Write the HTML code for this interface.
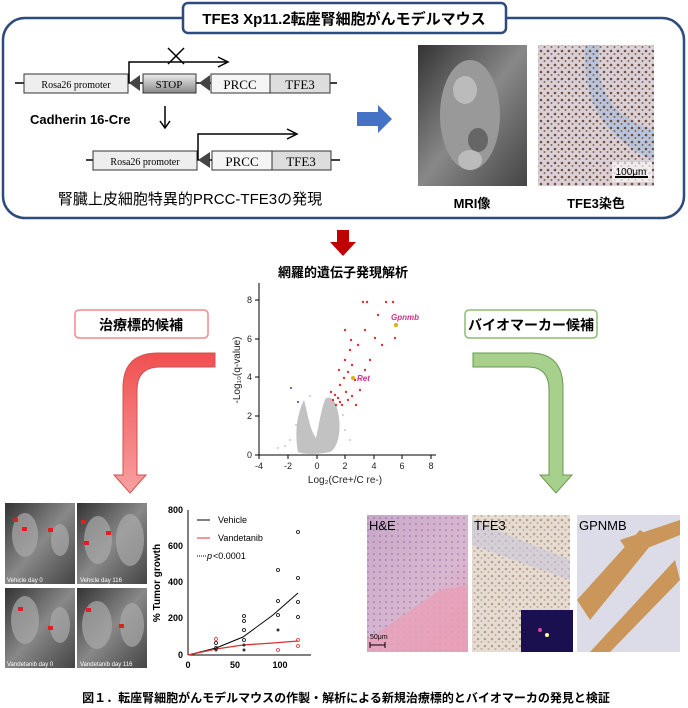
<!DOCTYPE html>
<html><head><meta charset="utf-8"><style>
body{margin:0;background:#fff}
svg{display:block;font-family:"Liberation Sans","Noto Sans CJK JP",sans-serif}
</style></head><body>
<svg width="688" height="708" viewBox="0 0 688 708" xmlns="http://www.w3.org/2000/svg">
<defs>
<linearGradient id="gs" x1="0" y1="0" x2="0" y2="1"><stop offset="0" stop-color="#eee"/><stop offset="1" stop-color="#888"/></linearGradient>
<linearGradient id="mri" x1="0" y1="0" x2="1" y2="1"><stop offset="0" stop-color="#333"/><stop offset=".5" stop-color="#888"/><stop offset="1" stop-color="#444"/></linearGradient>
<linearGradient id="he" x1="0" y1="0" x2="1" y2="1"><stop offset="0" stop-color="#c8a8c8"/><stop offset=".6" stop-color="#d8b8d0"/><stop offset="1" stop-color="#e8a0b8"/></linearGradient>
<linearGradient id="red" x1="0" y1="0" x2="0" y2="1"><stop offset="0" stop-color="#f05050"/><stop offset="1" stop-color="#f8a0a0"/></linearGradient>
<pattern id="dots" width="7" height="7" patternUnits="userSpaceOnUse"><circle cx="2" cy="2" r="1.3" fill="#5a3018"/><circle cx="5.5" cy="5" r="1" fill="#7a4a28"/></pattern>
<pattern id="dots2" width="6" height="6" patternUnits="userSpaceOnUse"><circle cx="2" cy="2" r=".9" fill="#7a5a9a"/></pattern>
</defs>
<!-- top box -->
<rect x="3" y="18" width="681" height="200" rx="22" fill="none" stroke="#2e4a7e" stroke-width="2.5"/>
<rect x="183" y="3" width="323" height="30" rx="5" fill="#fff" stroke="#2e4a7e" stroke-width="2.5"/>
<text x="344" y="24" font-size="15" font-weight="bold" text-anchor="middle">TFE3 Xp11.2転座腎細胞がんモデルマウス</text>
<!-- row1 -->
<line x1="15" y1="83" x2="337" y2="83" stroke="#000" stroke-width="1.5"/>
<rect x="24" y="74" width="104" height="19" fill="#eee" stroke="#333"/>
<text x="76" y="88" font-size="10" text-anchor="middle" font-family="Liberation Serif,serif">Rosa26 promoter</text>
<polygon points="129,83 140,75 140,91" fill="#444"/>
<rect x="143" y="74" width="53" height="19" fill="url(#gs)" stroke="#333"/>
<text x="169" y="88" font-size="11" text-anchor="middle" font-family="Liberation Serif,serif">STOP</text>
<polygon points="199,83 210,75 210,91" fill="#444"/>
<rect x="211" y="74" width="59" height="19" fill="#f5f5f5" stroke="#333"/>
<rect x="270" y="74" width="60" height="19" fill="#ddd" stroke="#333"/>
<text x="240" y="89" font-size="13" text-anchor="middle" font-family="Liberation Serif,serif">PRCC</text>
<text x="300" y="89" font-size="13" text-anchor="middle" font-family="Liberation Serif,serif">TFE3</text>
<polyline points="129,83 129,62 226,62" fill="none" stroke="#000" stroke-width="1.5"/>
<polyline points="218,57 228,62 218,67" fill="none" stroke="#000" stroke-width="1.5"/>
<path d="M168,48 L184,64 M184,48 L168,64" stroke="#000" stroke-width="1.5"/>
<text x="30" y="124" font-size="13" font-weight="bold">Cadherin 16-Cre</text>
<line x1="165" y1="106" x2="165" y2="127" stroke="#000" stroke-width="1.5"/>
<polyline points="160,121 165,128 170,121" fill="none" stroke="#000" stroke-width="1.5"/>
<!-- row2 -->
<line x1="86" y1="160" x2="340" y2="160" stroke="#000" stroke-width="1.5"/>
<rect x="93" y="151" width="104" height="19" fill="#eee" stroke="#333"/>
<text x="145" y="165" font-size="10" text-anchor="middle" font-family="Liberation Serif,serif">Rosa26 promoter</text>
<polygon points="198,160 210,152 210,168" fill="#444"/>
<rect x="212" y="151" width="60" height="19" fill="#f5f5f5" stroke="#333"/>
<rect x="272" y="151" width="59" height="19" fill="#ddd" stroke="#333"/>
<text x="242" y="166" font-size="13" text-anchor="middle" font-family="Liberation Serif,serif">PRCC</text>
<text x="301" y="166" font-size="13" text-anchor="middle" font-family="Liberation Serif,serif">TFE3</text>
<polyline points="198,160 198,134 295,134" fill="none" stroke="#000" stroke-width="1.5"/>
<polyline points="287,129 297,134 287,139" fill="none" stroke="#000" stroke-width="1.5"/>
<text x="190" y="204" font-size="15" text-anchor="middle">腎臓上皮細胞特異的PRCC-TFE3の発現</text>
<!-- blue arrow -->
<polygon points="357,112 378,112 378,105 392,119 378,133 378,126 357,126" fill="#4472c4"/>
<!-- images -->
<rect x="418" y="45" width="109" height="141" fill="url(#mri)"/>
<ellipse cx="470" cy="115" rx="30" ry="55" fill="#999"/>
<ellipse cx="465" cy="90" rx="12" ry="14" fill="#bbb"/>
<ellipse cx="478" cy="140" rx="10" ry="12" fill="#666"/>
<ellipse cx="470" cy="160" rx="12" ry="10" fill="#bbb"/>
<rect x="538" y="45" width="116" height="141" fill="#d9d0d8"/>
<path d="M600,45 Q590,110 654,130 L654,160 Q580,130 585,45Z" fill="#b8c4dc"/>
<rect x="538" y="45" width="116" height="141" fill="url(#dots)" opacity=".8"/>
<rect x="612" y="162" width="40" height="20" fill="#fff" opacity=".6"/>
<line x1="615" y1="177" x2="648" y2="177" stroke="#000" stroke-width="2"/>
<text x="631" y="175" font-size="10" text-anchor="middle">100μm</text>
<text x="472" y="208" font-size="13" font-weight="bold" text-anchor="middle">MRI像</text>
<text x="596" y="208" font-size="13" font-weight="bold" text-anchor="middle">TFE3染色</text>
<!-- red down arrow -->
<polygon points="337,230 349,230 349,242 356,242 343,256 330,242 337,242" fill="#c00000"/>
<text x="343" y="277" font-size="13" font-weight="bold" text-anchor="middle">網羅的遺伝子発現解析</text>
<!-- volcano -->
<g font-size="9" fill="#222">
<line x1="259" y1="283" x2="259" y2="455" stroke="#000"/>
<line x1="259" y1="455" x2="436" y2="455" stroke="#000"/>
<g stroke="#000">
<line x1="255" y1="455" x2="259" y2="455"/><line x1="255" y1="416" x2="259" y2="416"/><line x1="255" y1="377" x2="259" y2="377"/><line x1="255" y1="339" x2="259" y2="339"/><line x1="255" y1="300" x2="259" y2="300"/>
<line x1="259" y1="455" x2="259" y2="459"/><line x1="288" y1="455" x2="288" y2="459"/><line x1="317" y1="455" x2="317" y2="459"/><line x1="345" y1="455" x2="345" y2="459"/><line x1="374" y1="455" x2="374" y2="459"/><line x1="402" y1="455" x2="402" y2="459"/><line x1="431" y1="455" x2="431" y2="459"/>
</g>
<text x="252" y="458" text-anchor="end">0</text><text x="252" y="419" text-anchor="end">2</text><text x="252" y="380" text-anchor="end">4</text><text x="252" y="342" text-anchor="end">6</text><text x="252" y="303" text-anchor="end">8</text>
<text x="259" y="469" text-anchor="middle">-4</text><text x="288" y="469" text-anchor="middle">-2</text><text x="317" y="469" text-anchor="middle">0</text><text x="345" y="469" text-anchor="middle">2</text><text x="374" y="469" text-anchor="middle">4</text><text x="402" y="469" text-anchor="middle">6</text><text x="431" y="469" text-anchor="middle">8</text>
<text x="345" y="483" text-anchor="middle" font-size="10">Log₂(Cre+/C re-)</text>
<text transform="translate(240,370) rotate(-90)" text-anchor="middle" font-size="10">-Log₁₀(q-value)</text>
</g>
<path d="M298,452 C294,430 298,412 304,400 C308,415 310,430 316,438 C320,420 322,405 326,398 C332,396 336,402 338,412 C342,430 338,448 330,452 C320,454 305,455 298,452Z" fill="#c2c2c2"/>
<g fill="#c8c8c8"><circle cx="290" cy="440" r="1"/><circle cx="285" cy="446" r="1"/><circle cx="296" cy="425" r="1"/><circle cx="345" cy="430" r="1"/><circle cx="350" cy="440" r="1"/><circle cx="310" cy="396" r="1"/><circle cx="278" cy="448" r="1"/><circle cx="343" cy="415" r="1"/></g>
<g fill="#3040a0"><circle cx="291" cy="388" r="1"/><circle cx="298" cy="402" r="1"/></g>
<g fill="#e03030">
<circle cx="331" cy="392" r="1.2"/><circle cx="335" cy="395" r="1.2"/><circle cx="338" cy="398" r="1.2"/><circle cx="340" cy="385" r="1.2"/><circle cx="344" cy="378" r="1.2"/><circle cx="348" cy="372" r="1.2"/><circle cx="352" cy="365" r="1.2"/><circle cx="345" cy="360" r="1.2"/><circle cx="339" cy="370" r="1.2"/><circle cx="355" cy="380" r="1.2"/><circle cx="360" cy="390" r="1.2"/><circle cx="365" cy="370" r="1.2"/><circle cx="370" cy="360" r="1.2"/><circle cx="358" cy="345" r="1.2"/><circle cx="350" cy="350" r="1.2"/><circle cx="365" cy="330" r="1.2"/><circle cx="375" cy="338" r="1.2"/><circle cx="382" cy="345" r="1.2"/><circle cx="378" cy="315" r="1.2"/><circle cx="363" cy="302" r="1.2"/><circle cx="367" cy="302" r="1.2"/><circle cx="386" cy="302" r="1.2"/><circle cx="393" cy="302" r="1.2"/><circle cx="395" cy="338" r="1.2"/><circle cx="342" cy="405" r="1.2"/><circle cx="348" cy="400" r="1.2"/><circle cx="336" cy="405" r="1.2"/><circle cx="356" cy="405" r="1.2"/><circle cx="345" cy="330" r="1.2"/><circle cx="351" cy="340" r="1.2"/><circle cx="333" cy="400" r="1.2"/><circle cx="340" cy="402" r="1.2"/><circle cx="352" cy="396" r="1.2"/><circle cx="346" cy="392" r="1.2"/>
</g>
<circle cx="396" cy="325" r="2" fill="#e0b000"/><text x="405" y="320" font-size="8" font-style="italic" font-weight="bold" fill="#d0308c" text-anchor="middle">Gpnmb</text>
<circle cx="353" cy="378" r="2" fill="#e0b000"/><text x="357" y="381" font-size="8" font-style="italic" font-weight="bold" fill="#d0308c">Ret</text>
<!-- candidate boxes -->
<rect x="75" y="310" width="133" height="28" rx="4" fill="#fff" stroke="#f08a8a" stroke-width="1.5"/>
<text x="141" y="330" font-size="14" font-weight="bold" text-anchor="middle">治療標的候補</text>
<rect x="465" y="310" width="132" height="28" rx="4" fill="#fff" stroke="#8fbc6e" stroke-width="1.5"/>
<text x="531" y="330" font-size="14" font-weight="bold" text-anchor="middle">バイオマーカー候補</text>
<!-- curved arrows -->
<path d="M473,353 L530,353 Q563,353 563,388 L563,475 L572,475 L556,493 L540,475 L549,475 L549,390 Q549,367 528,367 L473,367Z" fill="#a8d08d" stroke="#6a9a50"/>
<path d="M215,353 L158,353 Q123,353 123,388 L123,475 L114,475 L130,493 L146,475 L137,475 L137,390 Q137,367 160,367 L215,367Z" fill="url(#red)" stroke="#d05050"/>
<!-- bottom MRI -->
<rect x="5" y="503" width="70" height="81" fill="url(#mri)"/>
<rect x="77" y="503" width="70" height="81" fill="url(#mri)"/>
<rect x="5" y="588" width="70" height="80" fill="url(#mri)"/>
<rect x="77" y="588" width="70" height="80" fill="url(#mri)"/>
<g fill="#aaa" opacity=".7"><ellipse cx="25" cy="535" rx="13" ry="22"/><ellipse cx="60" cy="540" rx="9" ry="16"/><ellipse cx="98" cy="540" rx="14" ry="24"/><ellipse cx="130" cy="540" rx="14" ry="26"/><ellipse cx="25" cy="620" rx="14" ry="24"/><ellipse cx="60" cy="625" rx="10" ry="18"/><ellipse cx="97" cy="625" rx="15" ry="24"/><ellipse cx="132" cy="625" rx="12" ry="22"/></g>
<g font-size="6" fill="#fff"><text x="7" y="582">Vehicle day 0</text><text x="80" y="582">Vehicle day 116</text><text x="7" y="666">Vandetanib day 0</text><text x="80" y="666">Vandetanib day 116</text></g>
<g fill="#e02020"><rect x="13" y="518" width="5" height="4"/><rect x="22" y="527" width="5" height="4"/><rect x="48" y="528" width="5" height="4"/><rect x="81" y="520" width="5" height="4"/><rect x="84" y="541" width="5" height="4"/><rect x="106" y="531" width="5" height="4"/><rect x="18" y="607" width="5" height="4"/><rect x="48" y="626" width="5" height="4"/><rect x="86" y="608" width="5" height="4"/><rect x="119" y="624" width="5" height="4"/></g>
<!-- growth chart -->
<g font-size="9" font-weight="bold">
<line x1="188" y1="510" x2="188" y2="655" stroke="#000"/>
<line x1="188" y1="655" x2="311" y2="655" stroke="#000"/>
<text x="183" y="513" text-anchor="end">800</text><text x="183" y="549" text-anchor="end">600</text><text x="183" y="585" text-anchor="end">400</text><text x="183" y="621" text-anchor="end">200</text><text x="183" y="658" text-anchor="end">0</text>
<text x="188" y="668" text-anchor="middle">0</text><text x="235" y="668" text-anchor="middle">50</text><text x="280" y="668" text-anchor="middle">100</text>
<text transform="translate(160,583) rotate(-90)" text-anchor="middle" font-size="10">% Tumor growth</text>
</g>
<g font-size="9"><line x1="197" y1="520" x2="210" y2="520" stroke="#000"/><text x="218" y="523">Vehicle</text>
<line x1="197" y1="538" x2="210" y2="538" stroke="#e03030"/><text x="218" y="541">Vandetanib</text>
<line x1="197" y1="556" x2="207" y2="556" stroke="#000" stroke-dasharray="1 1"/><text x="207" y="559" font-style="italic">p</text><text x="213" y="559">&lt;0.0001</text></g>
<path d="M188,655 L216,648 L243,637 L273,615 L298,593" fill="none" stroke="#000"/>
<path d="M188,655 L216,649 L243,645 L273,643 L298,641" fill="none" stroke="#e03030" stroke-width="1.3"/>
<g fill="none" stroke="#000" stroke-width=".8"><circle cx="298" cy="532" r="1.5"/><circle cx="298" cy="578" r="1.5"/><circle cx="298" cy="602" r="1.5"/><circle cx="298" cy="617" r="1.5"/><circle cx="278" cy="570" r="1.5"/><circle cx="278" cy="601" r="1.5"/><circle cx="278" cy="615" r="1.5"/><circle cx="244" cy="616" r="1.5"/><circle cx="244" cy="621" r="1.5"/><circle cx="244" cy="630" r="1.5"/><circle cx="244" cy="640" r="1.5"/><circle cx="216" cy="643" r="1.5"/><circle cx="216" cy="648" r="1.5"/></g>
<g fill="#333"><circle cx="216" cy="650" r="1.5"/><circle cx="244" cy="645" r="1.5"/><circle cx="244" cy="650" r="1.5"/><circle cx="278" cy="630" r="1.5"/></g>
<g fill="none" stroke="#e03030" stroke-width=".8"><circle cx="216" cy="639" r="1.5"/><circle cx="298" cy="646" r="1.5"/><circle cx="278" cy="650" r="1.5"/><circle cx="298" cy="640" r="1.5"/></g>
<!-- bottom right histology -->
<rect x="367" y="515" width="101" height="137" fill="url(#he)"/>
<rect x="367" y="515" width="101" height="137" fill="url(#dots2)" opacity=".6"/>
<path d="M367,640 L440,590 L468,585 L468,652 L367,652Z" fill="#e8a0b8" opacity=".8"/>
<rect x="472" y="515" width="98" height="137" fill="#e6dcd2"/>
<rect x="472" y="515" width="98" height="137" fill="url(#dots)" opacity=".35"/>
<path d="M472,520 L570,560 L570,580 L472,545Z" fill="#c9c8dc" opacity=".6"/>
<rect x="521" y="610" width="52" height="42" fill="#1a1050"/>
<circle cx="547" cy="635" r="2" fill="#ff8"/><circle cx="540" cy="630" r="2" fill="#e040a0"/>
<rect x="577" y="515" width="103" height="137" fill="#dcdce8"/>
<path d="M577,600 L640,530 L655,540 L590,620Z M590,652 L675,560 L680,580 L610,652Z M620,540 L680,520 L680,535 L630,555Z" fill="#c88a40" opacity=".85"/>
<text x="369" y="530" font-size="13">H&amp;E</text>
<text x="474" y="530" font-size="13">TFE3</text>
<text x="579" y="530" font-size="13">GPNMB</text>
<text x="370" y="639" font-size="7">50μm</text>
<path d="M370,645 L385,645 M370,642 L370,648 M385,642 L385,648" stroke="#000"/>
<text x="346" y="702" font-size="12" font-weight="bold" text-anchor="middle">図１．転座腎細胞がんモデルマウスの作製・解析による新規治療標的とバイオマーカの発見と検証</text>
</svg>
</body></html>
